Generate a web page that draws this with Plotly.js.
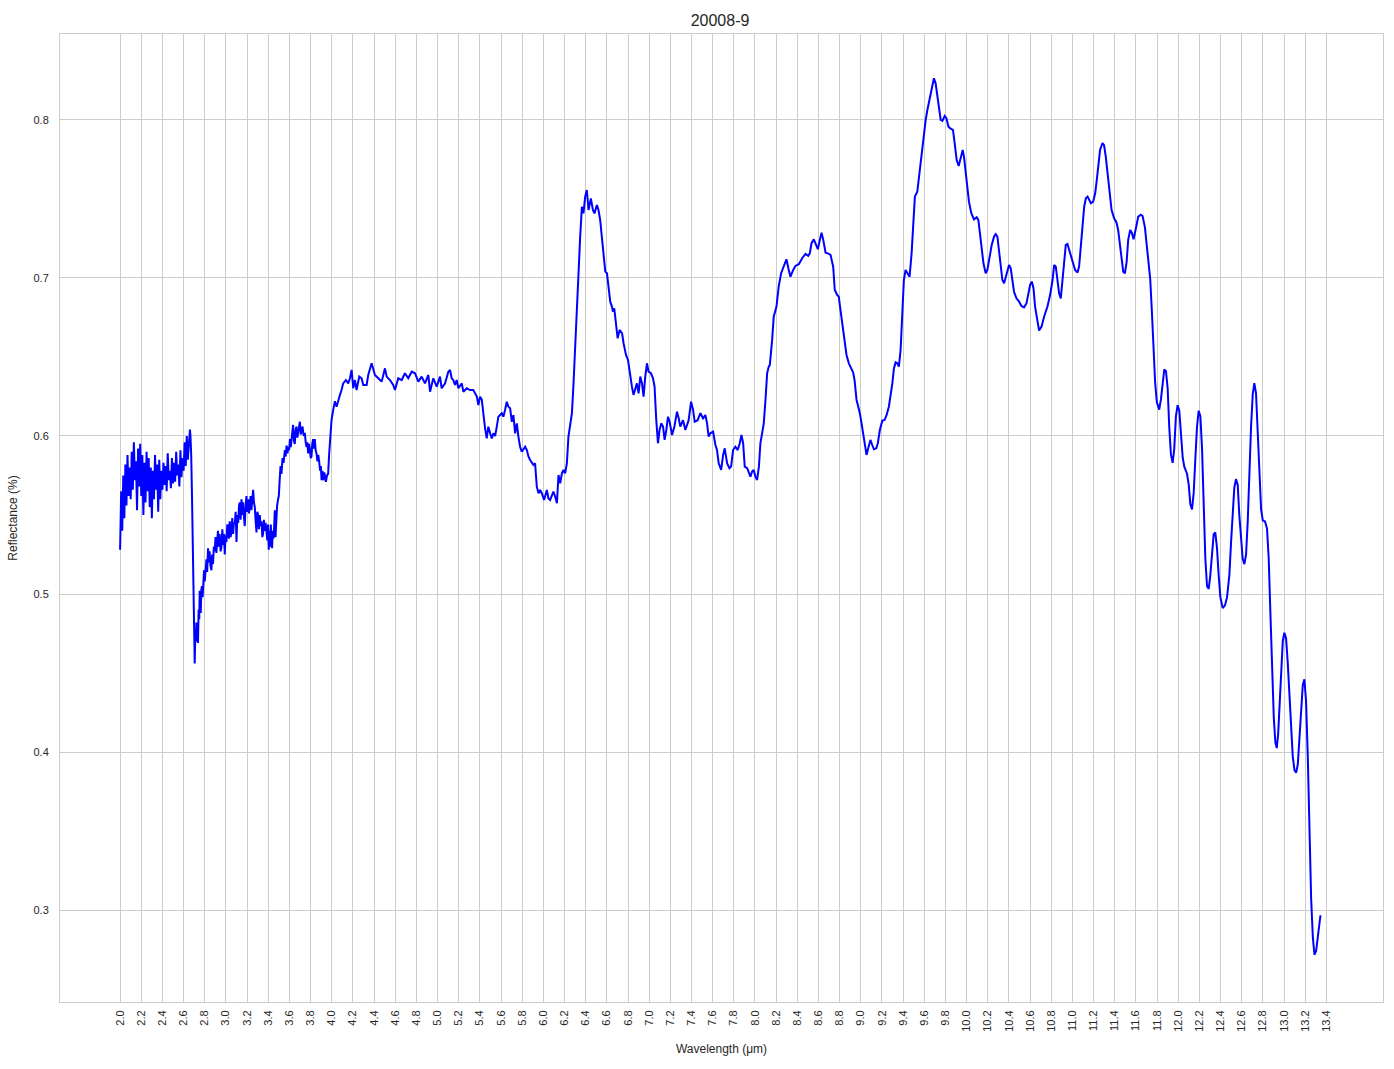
<!DOCTYPE html>
<html>
<head>
<meta charset="utf-8">
<script src="https://cdn.plot.ly/plotly-3.0.1.min.js"></script>
<style>
html,body{margin:0;padding:0;background:#fff;}
#chart{width:1394px;height:1069px;}
</style>
</head>
<body>
<div id="chart"></div>
<script>
// Wavelength in micrometres
const wavelength = [
2.00,2.01,2.02,2.03,2.04,2.05,2.06,2.07,2.08,2.09,2.10,2.11,2.12,2.13,2.14,2.15,2.16,2.17,2.18,2.19,
2.20,2.21,2.22,2.23,2.24,2.25,2.26,2.27,2.28,2.29,2.30,2.31,2.32,2.33,2.34,2.35,2.36,2.37,2.38,2.39,
2.40,2.41,2.42,2.43,2.44,2.45,2.46,2.47,2.48,2.49,2.50,2.51,2.52,2.53,2.54,2.55,2.56,2.57,2.58,2.59,
2.60,2.61,2.62,2.63,2.64,2.65,2.66,2.665,2.672,2.68,2.69,2.70,
2.705,2.712,2.718,2.721,2.728,2.736,2.742,2.748,2.752,2.757,2.762,2.768,2.774,2.780,2.787,2.793,2.800,2.808,2.816,2.823,
2.831,2.838,2.846,2.854,2.863,2.870,2.878,2.886,2.894,2.902,2.910,2.918,2.925,2.933,2.941,2.950,2.958,2.966,2.975,2.982,
2.989,2.997,3.005,3.013,3.020,3.028,3.036,3.044,3.052,3.060,3.068,3.075,3.083,3.092,3.100,3.108,3.116,3.124,3.131,3.139,
3.147,3.155,3.162,3.170,3.178,3.186,3.194,3.202,3.210,3.218,3.225,3.233,3.241,3.249,3.257,3.265,3.273,3.281,3.289,3.297,
3.304,3.312,3.320,3.328,3.336,3.344,3.351,3.359,3.367,3.375,3.383,3.391,3.398,3.405,3.412,3.418,3.424,3.430,3.436,3.442,
3.448,3.455,3.462,3.469,3.476,3.484,3.493,
3.500,3.508,3.516,3.525,3.535,3.545,3.557,3.565,3.573,3.582,3.590,3.597,3.605,3.613,3.620,3.628,3.635,3.643,3.651,3.659,
3.667,3.675,3.682,3.690,3.699,3.707,3.715,3.724,3.735,3.746,3.754,3.762,3.770,3.777,3.785,3.793,3.801,3.809,3.816,3.824,
3.832,3.840,3.848,3.856,3.865,3.873,3.881,3.890,3.897,3.904,3.912,3.919,3.930,3.945,3.955,3.966,3.975,3.982,3.990,3.998,
4.014,4.030,4.046,4.061,4.077,4.093,4.108,4.134,4.156,4.172,4.188,4.203,4.219,4.235,4.260,4.282,4.298,4.330,4.345,4.377,
4.392,4.408,4.440,4.472,4.503,4.519,4.550,4.581,4.597,4.629,4.661,4.692,4.723,4.756,4.787,4.818,4.850,4.881,4.913,4.929,
4.960,4.992,5.023,5.039,5.071,5.102,5.118,5.134,5.149,5.165,5.181,5.197,5.229,5.244,5.276,5.307,5.338,5.354,5.371,5.386,
5.402,5.418,5.433,5.449,5.465,5.480,5.497,5.513,5.528,5.544,5.560,5.575,5.607,5.622,5.638,5.654,5.670,5.686,5.702,5.717,
5.733,5.749,5.764,5.780,5.796,5.828,5.844,5.859,5.875,5.906,5.922,5.938,5.954,5.970,5.986,6.007,6.033,6.048,6.064,6.080,
6.095,6.112,6.128,6.143,6.159,6.175,6.190,6.206,6.222,6.237,6.260,6.270,6.285,6.301,6.317,6.332,6.348,6.364,6.379,6.395,
6.411,6.427,6.449,6.468,6.483,6.506,6.521,6.537,6.553,6.569,6.585,6.601,6.616,6.632,6.648,6.657,6.670,6.690,6.702,6.721,
6.744,6.758,6.781,6.800,6.821,6.837,6.852,6.868,6.884,6.900,6.916,6.932,6.947,6.963,6.979,6.994,7.017,7.036,7.051,7.067,
7.083,7.098,7.115,7.131,7.146,7.162,7.178,7.193,7.216,7.238,7.263,7.279,7.294,7.320,7.342,7.373,7.396,7.415,7.430,7.458,
7.484,7.509,7.531,7.547,7.562,7.578,7.604,7.626,7.641,7.657,7.680,7.699,7.714,7.737,7.759,7.774,7.793,7.815,7.837,7.856,
7.872,7.888,7.903,7.926,7.941,7.957,7.973,7.988,8.004,8.020,8.037,8.051,8.067,8.083,8.099,8.115,8.130,8.140,8.162,8.177,
8.203,8.224,8.247,8.272,8.297,8.319,8.335,8.361,8.382,8.414,8.446,8.477,8.503,8.518,8.534,8.556,8.572,8.594,8.613,8.629,
8.645,8.667,8.688,8.714,8.739,8.754,8.777,8.792,8.808,8.830,8.849,8.865,8.887,8.913,8.928,8.941,8.960,8.972,8.991,9.007,
9.029,9.054,9.070,9.091,9.108,9.124,9.146,9.161,9.180,9.203,9.225,9.244,9.265,9.282,9.298,9.313,9.329,9.345,9.360,9.376,
9.392,9.407,9.423,9.439,9.461,9.480,9.496,9.511,9.534,9.550,9.566,9.582,9.597,9.613,9.629,9.644,9.660,9.676,9.691,9.707,
9.723,9.739,9.755,9.771,9.793,9.809,9.828,9.849,9.871,9.887,9.906,9.925,9.944,9.963,9.975,9.991,10.007,10.022,10.045,10.070,
10.095,10.111,10.126,10.142,10.159,10.180,10.196,10.218,10.237,10.259,10.275,10.291,10.306,10.322,10.338,10.354,10.379,10.401,10.417,10.433,
10.448,10.471,10.496,10.518,10.543,10.566,10.581,10.600,10.616,10.632,10.647,10.670,10.685,10.708,10.732,10.764,10.789,10.812,10.827,10.843,
10.859,10.874,10.890,10.906,10.921,10.937,10.953,10.969,10.985,11.006,11.025,11.048,11.063,11.079,11.095,11.111,11.127,11.143,11.159,11.174,
11.196,11.215,11.230,11.246,11.261,11.284,11.299,11.315,11.331,11.347,11.370,11.394,11.417,11.432,11.448,11.464,11.480,11.496,11.512,11.527,
11.546,11.562,11.578,11.600,11.622,11.647,11.663,11.685,11.711,11.735,11.751,11.767,11.782,11.798,11.820,11.836,11.852,11.868,11.884,11.900,
11.915,11.931,11.947,11.962,11.978,11.994,12.010,12.026,12.042,12.057,12.083,12.099,12.114,12.130,12.146,12.161,12.177,12.193,12.209,12.225,
12.241,12.256,12.272,12.288,12.303,12.320,12.335,12.350,12.366,12.382,12.398,12.420,12.442,12.461,12.483,12.499,12.515,12.530,12.546,12.562,
12.577,12.593,12.609,12.625,12.641,12.657,12.672,12.688,12.704,12.719,12.735,12.751,12.767,12.783,12.799,12.820,12.839,12.855,12.871,12.887,
12.903,12.918,12.931,12.944,12.956,12.972,12.988,13.003,13.019,13.035,13.051,13.066,13.082,13.098,13.114,13.130,13.145,13.161,13.177,13.192,
13.208,13.224,13.240,13.256,13.272,13.287,13.303,13.319,13.334,13.344
];

// Reflectance
const reflectance = [
0.528,0.565,0.540,0.575,0.548,0.582,0.556,0.588,0.562,0.580,0.560,0.590,0.566,0.596,0.572,0.584,0.553,0.592,0.568,0.595,
0.562,0.588,0.550,0.583,0.558,0.590,0.565,0.586,0.555,0.580,0.548,0.578,0.560,0.588,0.566,0.582,0.552,0.585,0.560,0.578,
0.566,0.583,0.569,0.581,0.565,0.589,0.572,0.578,0.567,0.586,0.570,0.583,0.571,0.590,0.575,0.582,0.568,0.591,0.574,0.586,
0.578,0.596,0.581,0.600,0.585,0.598,0.604,0.600,0.588,0.560,0.510,0.470,
0.456,0.478,0.470,0.482,0.472,0.469,0.490,0.484,0.502,0.492,0.488,0.503,0.505,0.498,0.512,0.515,0.508,0.520,0.522,0.514,
0.529,0.520,0.527,0.518,0.515,0.525,0.519,0.530,0.527,0.536,0.526,0.534,0.540,0.530,0.538,0.527,0.530,0.541,0.531,0.538,
0.525,0.537,0.533,0.544,0.543,0.535,0.546,0.536,0.539,0.548,0.538,0.545,0.544,0.552,0.533,0.550,0.545,0.556,0.558,0.547,
0.560,0.550,0.558,0.549,0.543,0.556,0.562,0.552,0.560,0.551,0.555,0.562,0.553,0.563,0.566,0.558,0.555,0.546,0.539,0.552,
0.550,0.541,0.550,0.543,0.546,0.536,0.538,0.547,0.540,0.545,0.538,0.534,0.544,0.528,0.540,0.530,0.544,0.533,0.529,0.540,
0.535,0.541,0.553,0.536,0.549,0.556,0.560,
0.562,0.572,0.581,0.576,0.586,0.583,0.591,0.587,0.594,0.589,0.593,0.591,0.598,0.593,0.598,0.600,0.607,0.597,0.595,0.604,
0.606,0.599,0.602,0.606,0.609,0.601,0.603,0.606,0.600,0.602,0.596,0.593,0.596,0.589,0.595,0.592,0.586,0.587,0.595,0.598,
0.592,0.598,0.591,0.589,0.584,0.588,0.584,0.578,0.581,0.572,0.578,0.572,0.577,0.571,0.575,0.576,0.588,0.595,0.600,0.610,
0.6165,0.622,0.6185,0.6228,0.6259,0.6291,0.6333,0.6354,0.6333,0.6365,0.6418,0.6302,0.6354,0.6291,0.6376,0.6365,0.6323,0.6323,0.6386,0.646,
0.6418,0.6386,0.6365,0.6344,0.6428,0.6376,0.6354,0.6323,0.6291,0.6365,0.6354,0.6397,0.6365,0.6407,0.6397,0.6344,0.6376,0.6333,0.6386,0.628,
0.6365,0.6312,0.6376,0.6302,0.6333,0.6407,0.6418,0.6365,0.6354,0.6323,0.6354,0.6302,0.6333,0.628,0.6302,0.6291,0.6291,0.627,0.6249,0.6196,
0.6249,0.623,0.6133,0.6049,0.5985,0.6059,0.6017,0.5985,0.6017,0.600,0.6059,0.6122,0.6144,0.6122,0.6165,0.6217,0.6185,0.6175,0.609,0.6133,
0.6017,0.608,0.5996,0.5932,0.590,0.5932,0.5911,0.587,0.5848,0.5817,0.5827,0.5679,0.5637,0.5658,0.5637,0.5595,0.5658,0.5605,0.5595,0.5627,
0.5648,0.5616,0.5574,0.5753,0.570,0.5764,0.5785,0.5764,0.5827,0.5996,0.6122,0.6144,0.6333,0.6587,0.6797,0.7008,0.7261,0.7451,0.7409,0.7515,
0.7557,0.743,0.7504,0.743,0.7409,0.7462,0.743,0.7367,0.7261,0.7135,0.704,0.703,0.6945,0.685,0.6819,0.6787,0.6808,0.6692,0.6618,0.6671,
0.665,0.6587,0.6513,0.6481,0.6376,0.6312,0.626,0.6302,0.6333,0.627,0.6376,0.6333,0.6249,0.6376,0.646,0.6407,0.6397,0.6365,0.6312,0.610,
0.5954,0.6038,0.608,0.6059,0.5975,0.6038,0.6122,0.609,0.6006,0.6059,0.6154,0.6112,0.6059,0.610,0.6038,0.610,0.6217,0.6165,0.609,0.610,
0.6144,0.6112,0.6133,0.608,0.5996,0.6017,0.6028,0.5943,0.5911,0.5827,0.5785,0.588,0.5922,0.5827,0.5796,0.5806,0.5911,0.5932,0.5911,0.5954,
0.6006,0.5954,0.5806,0.5796,0.5764,0.5743,0.5775,0.5785,0.5743,0.5722,0.5806,0.5954,0.6017,0.608,0.6228,0.6397,0.6439,0.6449,0.6608,0.6755,
0.6819,0.6945,0.703,0.7071,0.7118,0.7051,0.7008,0.7051,0.7076,0.7087,0.7125,0.7152,0.714,0.7156,0.722,0.7245,0.722,0.7182,0.7241,0.7287,
0.7241,0.716,0.7156,0.7146,0.7071,0.6924,0.6892,0.6882,0.6797,0.6692,0.6587,0.6513,0.646,0.6422,0.6401,0.6354,0.6228,0.6196,0.6144,0.608,
0.5975,0.588,0.5922,0.5975,0.5943,0.5916,0.5922,0.5954,0.6038,0.6097,0.6101,0.6133,0.6185,0.6249,0.6333,0.6428,0.6466,0.646,0.6439,0.6544,
0.6755,0.6987,0.7051,0.703,0.7008,0.7156,0.7388,0.7515,0.7546,0.7641,0.7747,0.7853,0.7937,0.80,0.8063,0.8116,0.8169,0.8232,0.8264,0.8232,
0.8148,0.8063,0.80,0.7994,0.8025,0.8011,0.7958,0.7945,0.7937,0.7853,0.7747,0.7709,0.7768,0.781,0.7768,0.7663,0.7557,0.7483,0.7409,0.7371,
0.7384,0.7367,0.7283,0.7177,0.7093,0.703,0.7051,0.7135,0.7209,0.7261,0.7278,0.7261,0.7177,0.7071,0.6987,0.6966,0.703,0.7082,0.7061,0.6987,
0.6913,0.6871,0.685,0.6823,0.6814,0.684,0.6892,0.6956,0.6977,0.6935,0.6819,0.6713,0.6667,0.6692,0.6755,0.6819,0.6892,0.6987,0.7082,0.7071,
0.6987,0.6903,0.6871,0.6987,0.7135,0.7209,0.7215,0.7177,0.7135,0.7093,0.7051,0.7034,0.7072,0.7198,0.7346,0.7451,0.7504,0.7515,0.7494,0.7473,
0.7483,0.7536,0.762,0.7726,0.781,0.7853,0.784,0.7768,0.7663,0.7557,0.743,0.7378,0.735,0.7304,0.722,0.7114,0.704,0.703,0.710,0.7241,
0.7304,0.7285,0.7245,0.7315,0.7388,0.740,0.7392,0.732,0.7167,0.6994,0.6785,0.6542,0.6334,0.6213,0.6167,0.623,0.6334,0.6421,0.641,0.630,
0.6056,0.5882,0.583,0.5917,0.6125,0.6195,0.616,0.6004,0.5865,0.5806,0.5761,0.5692,0.557,0.5535,0.564,0.5848,0.6056,0.616,0.6125,0.5917,
0.557,0.5223,0.5049,0.5032,0.5119,0.5258,0.5379,0.539,0.5292,0.5119,0.498,0.4911,0.4928,0.498,0.5119,0.5327,0.5535,0.5674,0.5727,0.569,
0.5501,0.5327,0.5223,0.5189,0.525,0.5466,0.5779,0.6056,0.6265,0.6334,0.627,0.6022,0.5709,0.5535,0.5466,0.5459,0.5414,0.5223,0.4876,0.4529,
0.4216,0.406,0.4025,0.4112,0.4286,0.4563,0.4703,0.4755,0.472,0.4563,0.4355,0.4147,0.3973,0.3887,0.3869,0.3922,0.4077,0.4286,0.4425,0.446,
0.432,0.3973,0.3487,0.3071,0.2828,0.2717,0.2741,0.2828,0.2932,0.2967
];

const xTickValues = [2.0,2.2,2.4,2.6,2.8,3.0,3.2,3.4,3.6,3.8,4.0,4.2,4.4,4.6,4.8,5.0,5.2,5.4,5.6,5.8,
  6.0,6.2,6.4,6.6,6.8,7.0,7.2,7.4,7.6,7.8,8.0,8.2,8.4,8.6,8.8,9.0,9.2,9.4,9.6,9.8,
  10.0,10.2,10.4,10.6,10.8,11.0,11.2,11.4,11.6,11.8,12.0,12.2,12.4,12.6,12.8,13.0,13.2,13.4];
const xTickLabels = ["2.0","2.2","2.4","2.6","2.8","3.0","3.2","3.4","3.6","3.8","4.0","4.2","4.4","4.6","4.8","5.0","5.2","5.4","5.6","5.8",
  "6.0","6.2","6.4","6.6","6.8","7.0","7.2","7.4","7.6","7.8","8.0","8.2","8.4","8.6","8.8","9.0","9.2","9.4","9.6","9.8",
  "10.0","10.2","10.4","10.6","10.8","11.0","11.2","11.4","11.6","11.8","12.0","12.2","12.4","12.6","12.8","13.0","13.2","13.4"];
const yTickValues = [0.3, 0.4, 0.5, 0.6, 0.7, 0.8];
const yTickLabels = ["0.3", "0.4", "0.5", "0.6", "0.7", "0.8"];
const chartTitle = "20008-9";
const xTitle = "Wavelength (μm)";
const yTitle = "Reflectance (%)";

const textColor = "#262626";
const gridColor = "#cccccc";
const fontFamily = "Liberation Sans, Arial, sans-serif";

const trace = {
  x: wavelength,
  y: reflectance,
  type: "scatter",
  mode: "lines",
  line: {color: "#0000ff", width: 2},
  hoverinfo: "x+y"
};

const layout = {
  width: 1394,
  height: 1069,
  margin: {l: 60, r: 11, t: 34, b: 67},
  paper_bgcolor: "#ffffff",
  plot_bgcolor: "#ffffff",
  font: {family: fontFamily, color: textColor, size: 11},
  showlegend: false,
  title: {
    text: chartTitle,
    font: {family: fontFamily, size: 16, color: textColor},
    x: 0.5165, xanchor: "center",
    y: 1 - 20/1069, yanchor: "middle", yref: "container"
  },
  xaxis: {
    range: [1.432, 13.935],
    tickvals: xTickValues,
    ticktext: xTickLabels,
    tickangle: -90,
    ticks: "",
    showgrid: true,
    gridcolor: gridColor,
    gridwidth: 1,
    zeroline: false,
    showline: true,
    linecolor: gridColor,
    linewidth: 1,
    mirror: true,
    tickfont: {family: fontFamily, size: 11, color: textColor},
    ticklabelstandoff: 3,
    title: {text: xTitle, font: {family: fontFamily, size: 12, color: textColor}, standoff: 13}
  },
  yaxis: {
    range: [0.2418, 0.8544],
    tickvals: yTickValues,
    ticktext: yTickLabels,
    ticks: "",
    showgrid: true,
    gridcolor: gridColor,
    gridwidth: 1,
    zeroline: false,
    showline: true,
    linecolor: gridColor,
    linewidth: 1,
    mirror: true,
    tickfont: {family: fontFamily, size: 11, color: textColor},
    ticklabelstandoff: 8,
    title: {text: yTitle, font: {family: fontFamily, size: 12, color: textColor}, standoff: 13}
  }
};

Plotly.newPlot("chart", [trace], layout, {displayModeBar: false, staticPlot: true});
</script>
</body>
</html>
